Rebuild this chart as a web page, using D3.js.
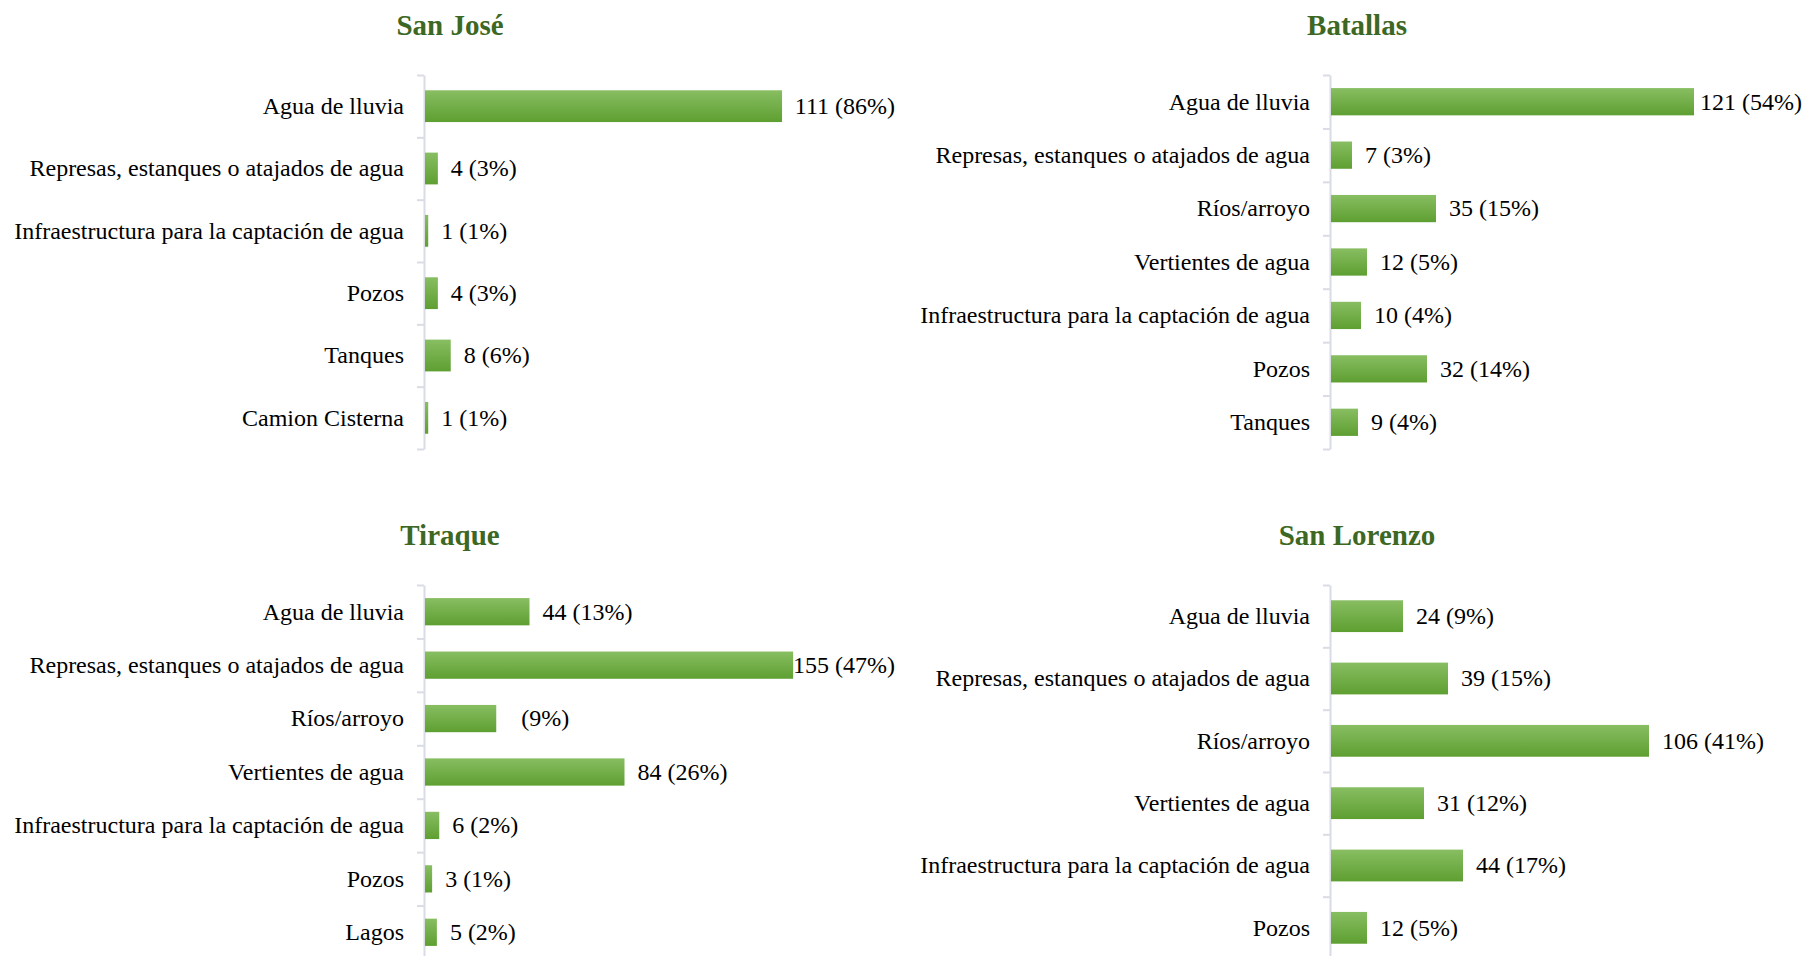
<!DOCTYPE html>
<html>
<head>
<meta charset="utf-8">
<script src="https://cdn.jsdelivr.net/npm/d3@7"></script>
<style>
  html, body { margin: 0; padding: 0; background: #ffffff; }
  svg { display: block; }
  text { font-family: "Liberation Serif", "Times New Roman", serif; }
</style>
</head>
<body>
<svg id="chart" width="1804" height="956"></svg>
<script>
// Fuentes de agua por municipio (número de respuestas y porcentaje)
const sanJoseCategories = ["Agua de lluvia", "Represas, estanques o atajados de agua",
  "Infraestructura para la captación de agua", "Pozos", "Tanques", "Camion Cisterna"];
const sanJoseValues = [111, 4, 1, 4, 8, 1];
const sanJosePercents = [86, 3, 1, 3, 6, 1];

const batallasCategories = ["Agua de lluvia", "Represas, estanques o atajados de agua",
  "Ríos/arroyo", "Vertientes de agua", "Infraestructura para la captación de agua",
  "Pozos", "Tanques"];
const batallasValues = [121, 7, 35, 12, 10, 32, 9];
const batallasPercents = [54, 3, 15, 5, 4, 14, 4];

const tiraqueCategories = ["Agua de lluvia", "Represas, estanques o atajados de agua",
  "Ríos/arroyo", "Vertientes de agua", "Infraestructura para la captación de agua",
  "Pozos", "Lagos"];
const tiraqueValues = [44, 155, 30, 84, 6, 3, 5];
const tiraquePercents = [13, 47, 9, 26, 2, 1, 2];
// the count is not printed on the Ríos/arroyo label
const tiraqueShowCount = [true, true, false, true, true, true, true];

const sanLorenzoCategories = ["Agua de lluvia", "Represas, estanques o atajados de agua",
  "Ríos/arroyo", "Vertientes de agua", "Infraestructura para la captación de agua", "Pozos"];
const sanLorenzoValues = [24, 39, 106, 31, 44, 12];
const sanLorenzoPercents = [9, 15, 41, 12, 17, 5];

const svg = d3.select("#chart");
svg.append("rect").attr("width", 1804).attr("height", 956).attr("fill", "#ffffff");

// vertical green gradient used by every bar
const defs = svg.append("defs");
const grad = defs.append("linearGradient")
  .attr("id", "barGreen").attr("x1", 0).attr("y1", 0).attr("x2", 0).attr("y2", 1);
grad.append("stop").attr("offset", "0%").attr("stop-color", "#88be62");
grad.append("stop").attr("offset", "100%").attr("stop-color", "#5e9f31");

function drawPanel(opt) {
  const n = opt.categories.length;
  const g = svg.append("g");

  // title
  g.append("text")
    .attr("x", opt.titleX).attr("y", opt.titleY)
    .attr("text-anchor", "middle")
    .attr("font-size", 29).attr("font-weight", "bold")
    .attr("fill", "#3d6823")
    .text(opt.title);

  const y = d3.scaleBand()
    .domain(opt.categories)
    .range([opt.top, opt.top + opt.height])
    .paddingInner(0.49).paddingOuter(0.245);

  const x = d3.scaleLinear()
    .domain([0, opt.xMax])
    .range([opt.axisX, opt.axisX + opt.plotWidth]);

  // category axis with tick marks on the band boundaries
  const slot = d3.scaleLinear().domain([0, n]).range([opt.top, opt.top + opt.height]);
  const axis = g.append("g")
    .attr("transform", `translate(${opt.axisX},0)`)
    .call(d3.axisLeft(slot).tickValues(d3.range(n + 1)).tickSize(7).tickSizeOuter(0).tickFormat(""));
  axis.select(".domain").attr("stroke", "#d9dce4").attr("stroke-width", 2);
  axis.selectAll(".tick line").attr("stroke", "#d9dce4").attr("stroke-width", 2);

  // category labels
  g.selectAll("text.cat")
    .data(opt.categories)
    .join("text")
    .attr("class", "cat")
    .attr("x", opt.axisX - 20)
    .attr("y", d => y(d) + y.bandwidth() / 2)
    .attr("dy", "0.33em")
    .attr("text-anchor", "end")
    .attr("font-size", 24)
    .attr("fill", "#000000")
    .text(d => d);

  const rows = opt.categories.map((c, i) => ({
    cat: c, value: opt.values[i], pct: opt.percents[i],
    showCount: opt.showCount ? opt.showCount[i] : true
  }));

  // bars
  g.selectAll("rect.bar")
    .data(rows)
    .join("rect")
    .attr("class", "bar")
    .attr("x", x(0) + 1)
    .attr("y", d => y(d.cat))
    .attr("width", d => x(d.value) - x(0))
    .attr("height", y.bandwidth())
    .attr("fill", "url(#barGreen)");

  // value labels, pulled back inside the panel when they would overflow it
  g.selectAll("text.val")
    .data(rows)
    .join("text")
    .attr("class", "val")
    .attr("y", d => y(d.cat) + y.bandwidth() / 2)
    .attr("dy", "0.33em")
    .attr("font-size", 24)
    .attr("fill", "#000000")
    .style("white-space", "pre")
    .text(d => (d.showCount ? d.value : " ") + " (" + d.pct + "%)")
    .attr("x", function (d) {
      const w = this.getComputedTextLength();
      return Math.min(x(d.value) + 14, opt.labelLimit - w);
    });
}

drawPanel({
  title: "San José", titleX: 450, titleY: 35,
  categories: sanJoseCategories, values: sanJoseValues, percents: sanJosePercents,
  axisX: 424, top: 75, height: 374, xMax: 120, plotWidth: 386, labelLimit: 895
});

drawPanel({
  title: "Batallas", titleX: 1357, titleY: 35,
  categories: batallasCategories, values: batallasValues, percents: batallasPercents,
  axisX: 1330, top: 75, height: 374, xMax: 140, plotWidth: 420, labelLimit: 1802
});

drawPanel({
  title: "Tiraque", titleX: 450, titleY: 545,
  categories: tiraqueCategories, values: tiraqueValues, percents: tiraquePercents,
  showCount: tiraqueShowCount,
  axisX: 424, top: 585, height: 374, xMax: 160, plotWidth: 380, labelLimit: 895
});

drawPanel({
  title: "San Lorenzo", titleX: 1357, titleY: 545,
  categories: sanLorenzoCategories, values: sanLorenzoValues, percents: sanLorenzoPercents,
  axisX: 1330, top: 585, height: 374, xMax: 120, plotWidth: 360, labelLimit: 1802
});
</script>
</body>
</html>
